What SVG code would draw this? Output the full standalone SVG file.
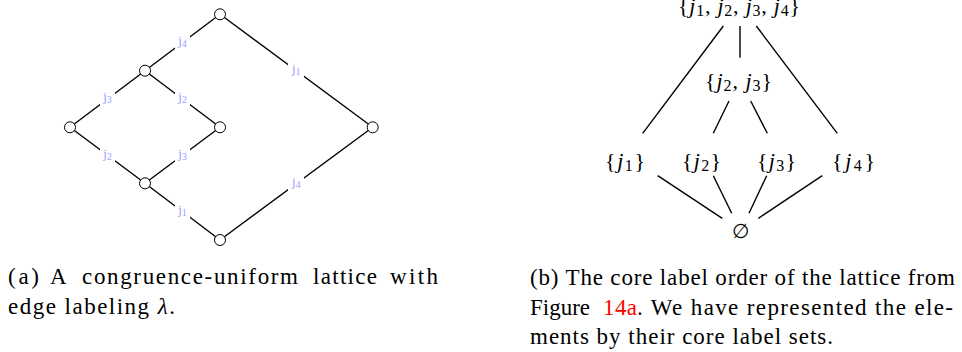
<svg xmlns="http://www.w3.org/2000/svg" width="962" height="352" viewBox="0 0 962 352">
<style>
.e{stroke:#000;stroke-width:1.4;fill:none}
.n{fill:#fff;stroke:#000;stroke-width:1}
.bg{fill:#fff}
.lb{font-family:"Liberation Serif",serif;font-size:13px;fill:#9a9aff;text-anchor:middle}
.sub{font-size:9.5px}
.m{font-family:"Liberation Serif",serif;font-size:22px;fill:#000}
.m .j{font-style:italic}
.m .s{font-size:16px}
.cap{font-family:"Liberation Serif",serif;font-size:23px;fill:#000}
</style>
<g id="connectors">
<g id="left-edges">
<line class="e" x1="220" y1="14.3" x2="145" y2="70.7"/>
<line class="e" x1="220" y1="14.3" x2="372.7" y2="127.3"/>
<line class="e" x1="145" y1="70.7" x2="70" y2="127.3"/>
<line class="e" x1="145" y1="70.7" x2="220" y2="127.3"/>
<line class="e" x1="70" y1="127.3" x2="145" y2="183.3"/>
<line class="e" x1="220" y1="127.3" x2="145" y2="183.3"/>
<line class="e" x1="145" y1="183.3" x2="220" y2="240"/>
<line class="e" x1="372.7" y1="127.3" x2="220" y2="240"/>
</g>
<g id="right-edges">
<line class="e" x1="723.3" y1="26" x2="642.7" y2="133.3"/>
<line class="e" x1="740" y1="26" x2="740" y2="57.7"/>
<line class="e" x1="756.3" y1="26" x2="837.3" y2="133.3"/>
<line class="e" x1="729" y1="101" x2="713.3" y2="133.3"/>
<line class="e" x1="750.7" y1="101" x2="767.3" y2="133.3"/>
<line class="e" x1="657.7" y1="175.7" x2="722.3" y2="218.3"/>
<line class="e" x1="713.3" y1="175.7" x2="731.7" y2="213.3"/>
<line class="e" x1="766.7" y1="175.7" x2="749" y2="213.3"/>
<line class="e" x1="822.3" y1="175.7" x2="758.3" y2="218.3"/>
</g>
</g>
<g id="edge-labels">
<g id="lbl-j4-top"><rect class="bg" x="175" y="36" width="15" height="13"/><text class="lb" x="182.5" y="44.5">j<tspan class="sub" dy="2">4</tspan></text></g>
<g id="lbl-j1-top"><rect class="bg" x="288" y="63.5" width="16" height="14"/><text class="lb" x="296.3" y="73">j<tspan class="sub" dy="2">1</tspan></text></g>
<g id="lbl-j3-ul"><rect class="bg" x="100" y="92.5" width="15" height="13"/><text class="lb" x="107.5" y="101">j<tspan class="sub" dy="2">3</tspan></text></g>
<g id="lbl-j2-ul"><rect class="bg" x="175" y="92.5" width="15" height="13"/><text class="lb" x="182.5" y="101">j<tspan class="sub" dy="2">2</tspan></text></g>
<g id="lbl-j2-ll"><rect class="bg" x="100" y="149" width="15" height="13"/><text class="lb" x="107.5" y="157.5">j<tspan class="sub" dy="2">2</tspan></text></g>
<g id="lbl-j3-ll"><rect class="bg" x="175" y="149" width="15" height="13"/><text class="lb" x="182.5" y="157.5">j<tspan class="sub" dy="2">3</tspan></text></g>
<g id="lbl-j1-b"><rect class="bg" x="175" y="205" width="15" height="13"/><text class="lb" x="182.5" y="213.5">j<tspan class="sub" dy="2">1</tspan></text></g>
<g id="lbl-j4-b"><rect class="bg" x="288" y="177" width="16" height="14"/><text class="lb" x="296.3" y="186">j<tspan class="sub" dy="2">4</tspan></text></g>
</g>
<g id="node-top"><circle class="n" cx="220" cy="14.3" r="5.5"/></g>
<g id="node-ul"><circle class="n" cx="145" cy="70.7" r="5.5"/></g>
<g id="node-l"><circle class="n" cx="70" cy="127.3" r="5.5"/></g>
<g id="node-mr"><circle class="n" cx="220" cy="127.3" r="5.5"/></g>
<g id="node-ll"><circle class="n" cx="145" cy="183.3" r="5.5"/></g>
<g id="node-bottom"><circle class="n" cx="220" cy="240" r="5.5"/></g>
<g id="node-right"><circle class="n" cx="372.7" cy="127.3" r="5.5"/></g>

<g id="set-j1234"><text class="m" x="678" y="13" textLength="122" lengthAdjust="spacing">{<tspan class="j">j</tspan><tspan class="s" dy="3">1</tspan><tspan dy="-3">, </tspan><tspan class="j">j</tspan><tspan class="s" dy="3">2</tspan><tspan dy="-3">, </tspan><tspan class="j">j</tspan><tspan class="s" dy="3">3</tspan><tspan dy="-3">, </tspan><tspan class="j">j</tspan><tspan class="s" dy="3">4</tspan><tspan dy="-3">}</tspan></text></g>
<g id="set-j23"><text class="m" x="705" y="88" textLength="67" lengthAdjust="spacing">{<tspan class="j">j</tspan><tspan class="s" dy="3">2</tspan><tspan dy="-3">, </tspan><tspan class="j">j</tspan><tspan class="s" dy="3">3</tspan><tspan dy="-3">}</tspan></text></g>
<g id="set-j1"><text class="m" x="605" y="168" textLength="40" lengthAdjust="spacing">{<tspan class="j">j</tspan><tspan class="s" dy="3">1</tspan><tspan dy="-3">}</tspan></text></g>
<g id="set-j2"><text class="m" x="682" y="168" textLength="39" lengthAdjust="spacing">{<tspan class="j">j</tspan><tspan class="s" dy="3">2</tspan><tspan dy="-3">}</tspan></text></g>
<g id="set-j3"><text class="m" x="757" y="168" textLength="39" lengthAdjust="spacing">{<tspan class="j">j</tspan><tspan class="s" dy="3">3</tspan><tspan dy="-3">}</tspan></text></g>
<g id="set-j4"><text class="m" x="832" y="168" textLength="43" lengthAdjust="spacing">{<tspan class="j">j</tspan><tspan class="s" dy="3">4</tspan><tspan dy="-3">}</tspan></text></g>
<g id="set-empty"><text x="740.5" y="238" text-anchor="middle" style="font-family:'DejaVu Serif','Liberation Serif',serif;font-size:20px;fill:#000">∅</text></g>

<g id="caption-a" class="cap">
<text x="8" y="284" textLength="31" lengthAdjust="spacing">(a)</text>
<text x="50" y="284" textLength="18" lengthAdjust="spacing">A</text>
<text x="82" y="284" textLength="216" lengthAdjust="spacing">congruence-uniform</text>
<text x="313" y="284" textLength="64" lengthAdjust="spacing">lattice</text>
<text x="390" y="284" textLength="48" lengthAdjust="spacing">with</text>
<text x="8" y="314" textLength="167" lengthAdjust="spacing">edge labeling <tspan font-style="italic">λ</tspan>.</text>
</g>
<g id="caption-b" class="cap">
<text x="530" y="285" textLength="425" lengthAdjust="spacing">(b) The core label order of the lattice from</text>
<text x="530" y="315" textLength="60" lengthAdjust="spacing">Figure</text>
<text x="603" y="315" textLength="34" lengthAdjust="spacing" fill="#ff0000">14a</text>
<text x="637" y="315" textLength="316" lengthAdjust="spacing">. We have represented the ele-</text>
<text x="530" y="344" textLength="303" lengthAdjust="spacing">ments by their core label sets.</text>
</g>
</svg>
